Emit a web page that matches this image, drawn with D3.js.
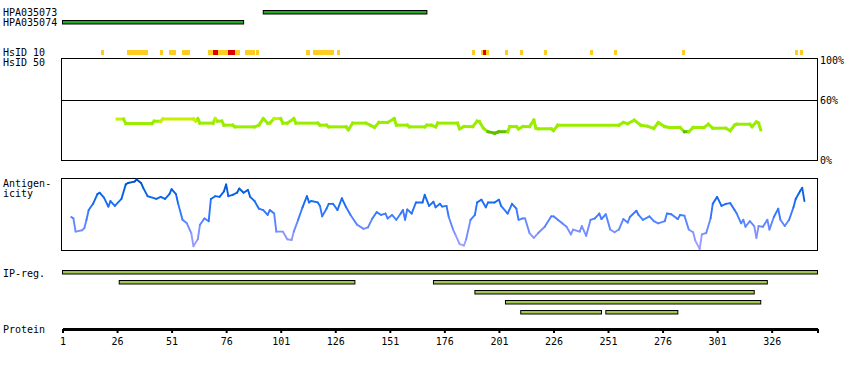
<!DOCTYPE html>
<html>
<head>
<meta charset="utf-8">
<script src="https://cdn.jsdelivr.net/npm/d3@7"></script>
<style>
  body { margin: 0; background: #fff; }
  svg text { font-family: "DejaVu Sans Mono", monospace; font-size: 10px; fill: #000; }
</style>
</head>
<body>
<div id="chart"></div>
<script>
// ---- data ----
const proteinLength = 347;
const axisTicks = [1, 26, 51, 76, 101, 126, 151, 176, 201, 226, 251, 276, 301, 326];

const hpaNames = ["HPA035073", "HPA035074"];
const hpaRanges = [[93, 168], [1, 84]];

// HsID 10 marks (start, end residue, inclusive)
const hsidYellow = [[19,19],[31,39],[46,46],[50,52],[56,58],[68,69],[72,74],[75,76],[80,81],[85,88],[90,90],
                    [113,113],[116,124],[127,127],[189,189],[193,193],[195,195],[204,204],[211,211],[222,222],
                    [243,243],[254,254],[285,285],[337,337],[339,339]];
const hsidRed = [[70,71],[77,79],[194,194]];

// HsID 50 similarity (%), [residue, value]
const simPoints = [[26,41],[29,41],[30,36.6],[42,36.6],[43,38.9],[46,38.9],[47,41.2],[61,41.2],[62,39],[63,41.5],
  [64,37],[70,37],[71,41.5],[72,39],[74,39],[75,35],[79,35],[80,33.3],[89,33.3],[91,35],[93,41.5],[95,37],[96,37],
  [98,41.5],[101,41.5],[102,37],[104,37],[107,41.5],[108,37],[118,37],[119,35],[122,35],[123,33.3],[131,33.3],
  [132,30.4],[134,37],[140,37],[142,35],[144,32.7],[146,37.7],[150,37.7],[153,41.5],[154,35],[159,35],[160,33.3],
  [167,33.3],[168,35],[170,35],[172,33.3],[173,37],[182,37],[183,31.4],[185,33.6],[189,33.6],[191,39],[192,38.5],
  [194,31.7],[196,28.5],[199,27],[201,28.5],[205,28.5],[206,33.6],[209,33.6],[210,31.4],[212,33.6],[215,33.6],
  [217,40],[218,32],[219,31.4],[225,31.4],[226,29.5],[228,35],[256,35],[258,37.6],[260,36.5],[263,39.9],[266,35],
  [269,34],[272,31.7],[274,37.6],[277,33.6],[279,32.7],[284,32.7],[286,28.5],[288,28.5],[290,32.7],[295,32.7],
  [297,35.9],[299,32],[305,32],[307,29.5],[309,35],[310,35.9],[316,35.9],[317,33.6],[319,38.2],[320,37],[321,30.4]];

// Antigenicity (relative, 0-100), [residue, value]
const antPoints = [[5,46],[6,44],[7,25],[10,27],[11,30],[12,42],[13,56],[15,65],[17,79],[18,81],[20,74],[22,61],[23,69],[25,62],
  [28,72],[30,93],[31,95],[34,97],[35,100],[37,95],[38,88],[40,76],[41,75],[44,72],[46,75],[48,72],[50,79],[51,86],
  [53,79],[54,65],[56,42],[58,37],[60,23],[61,4],[63,14],[64,35],[66,44],[68,40],[69,72],[71,76],[73,75],[75,83],
  [76,93],[77,76],[79,78],[81,81],[82,87],[84,81],[86,85],[87,75],[89,69],[91,58],[93,56],[95,49],[96,56],[98,51],
  [99,25],[102,25],[104,14],[106,13],[107,25],[109,42],[111,60],[113,76],[114,67],[115,69],[118,67],[119,62],
  [120,47],[122,58],[123,65],[125,65],[127,56],[129,73],[131,60],[133,49],[136,35],[139,29],[141,31],[143,44],
  [145,53],[147,49],[149,51],[150,44],[152,49],[154,42],[156,51],[157,56],[158,42],[159,57],[161,51],[163,67],
  [166,67],[167,78],[169,62],[171,68],[172,60],[174,65],[175,61],[177,62],[178,46],[180,28],[181,21],[183,7],
  [185,5],[186,14],[188,42],[190,49],[191,67],[193,71],[195,60],[196,67],[199,67],[201,71],[202,62],[205,51],
  [207,65],[209,58],[210,42],[212,44],[213,44],[215,23],[217,16],[219,23],[222,32],[225,47],[226,47],[228,42],
  [230,37],[232,32],[234,21],[235,28],[238,25],[239,33],[241,19],[243,42],[245,44],[247,51],[248,43],[250,50],
  [252,28],[254,24],[256,28],[258,43],[260,38],[261,46],[264,55],[265,49],[267,42],[270,47],[272,40],[274,37],
  [277,40],[278,51],[280,50],[283,43],[284,49],[286,48],[288,28],[290,24],[291,12],[293,0],[294,21],[296,23],
  [298,44],[299,65],[301,75],[303,62],[305,65],[307,66],[309,56],[310,51],[312,37],[313,42],[314,32],[316,40],
  [318,33],[319,16],[320,33],[322,32],[324,42],[325,28],[327,46],[329,58],[330,42],[332,33],[334,42],[336,60],
  [337,72],[339,83],[340,88],[341,69]];

// IP-reg. rows
const ipRegRows = [
  [[1, 347]],
  [[27, 135], [171, 324]],
  [[190, 318]],
  [[204, 321]],
  [[211, 248], [250, 283]]
];

const simLabels = [100, 60, 0];

// ---- drawing ----
const W = 850, H = 370;
const svg = d3.select("#chart").append("svg")
    .attr("width", W)
    .attr("height", H);

const x = d3.scaleLinear().domain([1, proteinLength]).range([62.5, 817.5]);

// left-hand labels
const labels = [
  ["HPA035073", 16], ["HPA035074", 26], ["HsID 10", 56], ["HsID 50", 66],
  ["Antigen-", 187], ["icity", 197], ["IP-reg.", 277], ["Protein", 333]
];
svg.selectAll(".lbl")
    .data(labels)
    .enter()
    .append("text")
    .attr("x", 3)
    .attr("y", d => d[1])
    .text(d => d[0]);

// HPA antigen bars
svg.selectAll(".hpa")
    .data(hpaRanges)
    .enter()
    .append("rect")
    .attr("x", d => x(d[0]))
    .attr("y", (d, i) => 10.5 + i * 10)
    .attr("width", d => x(d[1]) - x(d[0]))
    .attr("height", 3.5)
    .attr("fill", "#24a824")
    .attr("stroke", "#000")
    .attr("stroke-width", 1);

// HsID 10 marks
function marks(data, color) {
  svg.append("g").selectAll("rect")
      .data(data)
      .enter()
      .append("rect")
      .attr("x", d => Math.floor(x(d[0])))
      .attr("y", 50)
      .attr("width", d => Math.ceil(x(d[1] + 1)) - Math.floor(x(d[0])))
      .attr("height", 5)
      .attr("fill", color)
      .attr("shape-rendering", "crispEdges");
}
marks(hsidYellow, "#ffcc22");
marks(hsidRed, "#dd0000");

// similarity panel
const ySim = d3.scaleLinear().domain([0, 100]).range([160.5, 59.5]);
svg.append("rect")
    .attr("x", 61.5).attr("y", 58.5)
    .attr("width", 756).attr("height", 102)
    .attr("fill", "none").attr("stroke", "#000");
svg.append("line")
    .attr("x1", 61.5).attr("x2", 817.5)
    .attr("y1", Math.round(ySim(60)) + 0.5).attr("y2", Math.round(ySim(60)) + 0.5)
    .attr("stroke", "#000");
svg.selectAll(".simlbl")
    .data(simLabels)
    .enter()
    .append("text")
    .attr("x", 820)
    .attr("y", d => Math.min(ySim(d), 160) + 4)
    .text(d => d + "%");

const simColor = d3.scaleThreshold().domain([29, 40]).range(["#5cbf00", "#99ee00", "#c6f000"]);
svg.append("g").selectAll("line")
    .data(d3.pairs(simPoints))
    .enter()
    .append("line")
    .attr("x1", d => x(d[0][0])).attr("y1", d => ySim(d[0][1]))
    .attr("x2", d => x(d[1][0])).attr("y2", d => ySim(d[1][1]))
    .attr("stroke", d => simColor((d[0][1] + d[1][1]) / 2))
    .attr("stroke-width", 3)
    .attr("stroke-linecap", "square");

// antigenicity panel
const yAnt = d3.scaleLinear().domain([0, 100]).range([249, 179.5]);
svg.append("rect")
    .attr("x", 61.5).attr("y", 178.5)
    .attr("width", 756).attr("height", 72)
    .attr("fill", "none").attr("stroke", "#000");
const antColor = d3.scaleLinear()
    .domain([0, 25, 50, 75, 100])
    .range(["#b0a4ff", "#7e90ff", "#3a7aff", "#0a66ee", "#004fc0"]);
svg.append("g").selectAll("line")
    .data(d3.pairs(antPoints))
    .enter()
    .append("line")
    .attr("x1", d => x(d[0][0])).attr("y1", d => yAnt(d[0][1]))
    .attr("x2", d => x(d[1][0])).attr("y2", d => yAnt(d[1][1]))
    .attr("stroke", d => antColor((d[0][1] + d[1][1]) / 2))
    .attr("stroke-width", 1.9)
    .attr("stroke-linecap", "round");

// IP-reg. bars
ipRegRows.forEach((row, i) => {
  svg.append("g").selectAll("rect")
      .data(row)
      .enter()
      .append("rect")
      .attr("x", d => x(d[0]))
      .attr("y", 270.5 + i * 10)
      .attr("width", d => x(d[1]) - x(d[0]))
      .attr("height", 3.5)
      .attr("fill", "#a0c850")
      .attr("stroke", "#000")
      .attr("stroke-width", 1);
});

// protein axis
const axis = svg.append("g")
    .attr("transform", "translate(0,329)")
    .call(d3.axisBottom(x)
        .tickValues(axisTicks.concat([proteinLength]))
        .tickFormat(d => d === proteinLength ? "" : d)
        .tickSize(4)
        .tickSizeOuter(0)
        .tickPadding(5));
axis.select(".domain").attr("stroke", "#000").attr("stroke-width", 3);
axis.selectAll(".tick line").attr("stroke", "#000").attr("stroke-width", 2);
axis.selectAll(".tick text")
    .style("font-family", "'DejaVu Sans Mono', monospace")
    .style("font-size", "10px")
    .attr("fill", "#000");
</script>
</body>
</html>
